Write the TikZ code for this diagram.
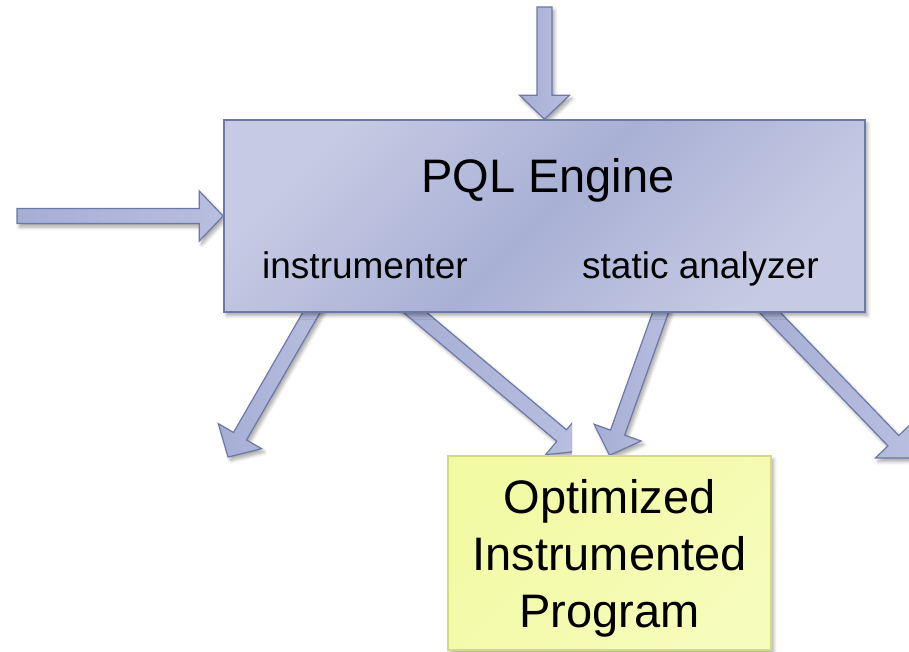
\documentclass[tikz,border=0pt]{standalone}
\usepackage{fontspec}
\setmainfont{Liberation Sans}
\usetikzlibrary{calc,backgrounds,shadows.blur}

\definecolor{boxlight}{RGB}{198,203,227}
\definecolor{boxmid}{RGB}{168,176,213}
\definecolor{boxedge}{RGB}{108,121,168}
\definecolor{arrowfill}{RGB}{166,174,213}
\definecolor{arrowlight}{RGB}{184,190,223}
\definecolor{noteyellow}{RGB}{242,250,164}
\definecolor{notelight}{RGB}{246,252,186}
\definecolor{noteedge}{RGB}{212,220,122}

\tikzset{
  softshadow/.style={blur shadow={shadow xshift=2.5pt, shadow yshift=-3.5pt,
      shadow blur radius=3.5pt, shadow blur steps=6, shadow opacity=35}},
  enginebox/.style={rectangle, draw=boxedge, line width=1.6pt, inner sep=0pt,
      minimum width=641pt, minimum height=192pt,
      top color=boxlight, bottom color=boxlight, middle color=boxmid,
      shading angle=45, softshadow},
  outbox/.style={rectangle, draw=noteedge, line width=1.6pt, inner sep=0pt,
      minimum width=323pt, minimum height=194pt,
      top color=noteyellow, bottom color=notelight, shading angle=45,
      softshadow},
  outtext/.style={inner sep=0pt, align=center, font=\fontsize{47}{57}\selectfont},
  titletext/.style={inner sep=0pt, font=\fontsize{47}{57}\selectfont},
  parttext/.style={inner sep=0pt, font=\fontsize{37}{44}\selectfont},
  arrowbody/.style={draw=boxedge, line width=1.2pt, line join=miter,
      left color=arrowfill, right color=arrowlight, softshadow},
}

% block arrow from #1 to the tip #2: shaft 15pt wide, head 50pt wide and 24pt long
\newcommand\blockarrow[2]{%
  \coordinate (ba-base) at ($(#2)!24pt!(#1)$);
  \path[arrowbody]
    ($(#1)!7.5pt!90:(#2)$) --
    ($(ba-base)!7.5pt!90:(#2)$) --
    ($(ba-base)!25pt!90:(#2)$) --
    (#2) --
    ($(ba-base)!25pt!-90:(#2)$) --
    ($(ba-base)!7.5pt!-90:(#2)$) --
    ($(#1)!7.5pt!-90:(#2)$) -- cycle;
}

\begin{document}
\begin{tikzpicture}[x=1pt,y=-1pt]
  \useasboundingbox (0,0) rectangle (909,652);

  % engine with its two parts
  \node[enginebox] (engine) at (544.5,216) {};
  \node[titletext, anchor=base] (title) at (548,193) {PQL Engine};
  \node[parttext, anchor=base west] (instr) at (262,278) {instrumenter};
  \node[parttext, anchor=base west] (stat) at (582,278) {static analyzer};

  % result
  \node[outbox] (out) at (609.5,553) {};
  \node[outtext] (outlabel) at (609.5,558) {Optimized\\Instrumented\\Program};

  % free ends and shaft starts
  \coordinate (inTop) at (544.5,7);
  \coordinate (inLeft) at (17,216);
  \coordinate (s1) at ($(engine.south west)+(95,-12)$);
  \coordinate (s2) at ($(engine.south west)+(178,-12)$);
  \coordinate (s3) at ($(engine.south west)+(441.5,-12)$);
  \coordinate (s4) at ($(engine.south west)+(535.5,-12)$);
  \coordinate (t1) at (228,457);
  \coordinate (t2) at (580,451);
  \coordinate (t4) at (910,458);

  \begin{scope}[on background layer]
    \blockarrow{inTop}{engine.north}
    \blockarrow{inLeft}{engine.west}
    \blockarrow{s1}{t1}
    \begin{scope}
      \clip (0,0) rectangle (572,652);
      \blockarrow{s2}{t2}
    \end{scope}
    \blockarrow{s3}{out.north}
    \blockarrow{s4}{t4}
  \end{scope}
\end{tikzpicture}
\end{document}
